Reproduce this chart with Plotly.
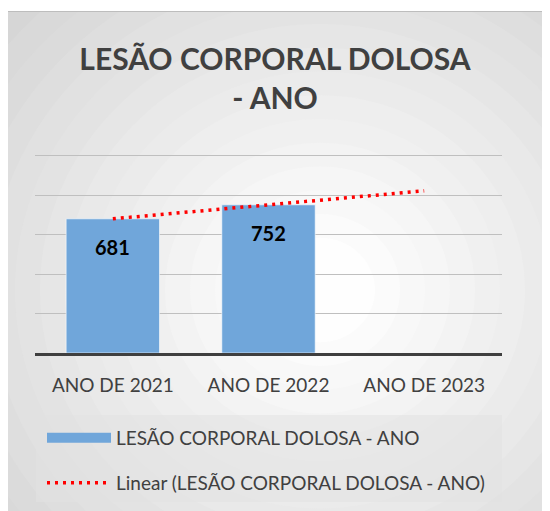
import numpy as np
import plotly.graph_objects as go

# dados
categorias = ["ANO DE 2021", "ANO DE 2022", "ANO DE 2023"]
valores = [681, 752, None]
serie_nome = "LESÃO CORPORAL DOLOSA - ANO"
titulo = "LESÃO CORPORAL DOLOSA<br>- ANO"
y_ticks = [0, 200, 400, 600, 800, 1000]

# a página tem margem de 8px no body
OFF = 8
W, H = 550 - OFF, 511 - OFF
ML, MR, MT, MB = 27, 48, 145, 158
PW, PH = W - ML - MR, H - MT - MB


def px(x):
    return (x - OFF - ML) / PW


def py(y):
    return (H - MB - (y - OFF)) / PH


def cx_(x):
    return (x - OFF) / W


def cy_(y):
    return 1 - (y - OFF) / H


# linha de tendência linear (como no Excel)
idx = np.arange(len(categorias))
conhecidos = [(i, v) for i, v in zip(idx, valores) if v is not None]
a, b = np.polyfit([c[0] for c in conhecidos], [c[1] for c in conhecidos], 1)
tendencia = list(a * idx + b)

FONTE = "Lato"
CINZA = "#404040"
AZUL = "#70a6da"

fig = go.Figure()

fig.add_trace(go.Bar(
    x=categorias, y=valores, width=0.6,
    marker=dict(color=AZUL, line=dict(color="rgba(255,255,255,0.6)", width=1)),
    showlegend=False, hoverinfo="skip"
))

fig.add_trace(go.Scatter(
    x=categorias, y=tendencia, mode="lines",
    line=dict(color="#ff0000", width=3.5, dash="3px,5px"),
    showlegend=False, hoverinfo="skip"
))

# entradas de legenda
fig.add_trace(go.Scatter(
    x=[None], y=[None], mode="lines", name=serie_nome,
    line=dict(color=AZUL, width=10), legend="legend"
))
fig.add_trace(go.Scatter(
    x=[None], y=[None], mode="lines", name="Linear (" + serie_nome + ")",
    line=dict(color="#ff0000", width=3.5, dash="3px,5px"), legend="legend2"
))

# rótulos de dados
for c, v in zip(categorias, valores):
    if v is None:
        continue
    fig.add_annotation(
        x=c, y=v, text="<b>%d</b>" % v, showarrow=False,
        yanchor="top", yshift=-14,
        font=dict(family=FONTE, size=20, color="#000000")
    )

# fundo com gradiente radial aproximado
shapes = [dict(type="rect", xref="paper", yref="paper", layer="below",
               x0=px(7), x1=px(560), y0=py(520), y1=py(11),
               fillcolor="#d2d2d2", line=dict(width=0))]
gx, gy = 320, 290
n = 16
for k in range(n):
    r = 430 - k * 25
    g = int(0xd4 + (0xfe - 0xd4) * (k + 1) / n)
    shapes.append(dict(type="circle", xref="paper", yref="paper", layer="below",
                       x0=px(gx - r), x1=px(gx + r), y0=py(gy + r * 0.95), y1=py(gy - r * 0.95),
                       fillcolor="rgb(%d,%d,%d)" % (g, g, g), line=dict(width=0)))
# recortes brancos e borda
shapes += [
    dict(type="rect", xref="paper", yref="paper", layer="below",
         x0=px(-400), x1=px(7), y0=py(900), y1=py(-400),
         fillcolor="white", line=dict(width=0)),
    dict(type="rect", xref="paper", yref="paper", layer="below",
         x0=px(-400), x1=px(900), y0=py(11), y1=py(-400),
         fillcolor="white", line=dict(width=0)),
    dict(type="rect", xref="paper", yref="paper", layer="below",
         x0=px(7.5), x1=px(560), y0=py(520), y1=py(11.5),
         fillcolor="rgba(0,0,0,0)", line=dict(color="#bdbdbd", width=1)),
    # caixa da legenda
    dict(type="rect", xref="paper", yref="paper", layer="below",
         x0=px(36), x1=px(502), y0=py(502), y1=py(415),
         fillcolor="rgba(225,225,225,0.55)", line=dict(width=0)),
]

fig.update_layout(
    width=W, height=H,
    margin=dict(l=ML, r=MR, t=MT, b=MB, autoexpand=False),
    paper_bgcolor="white", plot_bgcolor="rgba(0,0,0,0)",
    shapes=shapes,
    title=dict(text="<b>" + titulo + "</b>", x=cx_(275), xanchor="center",
               y=cy_(70), yanchor="middle", yref="container",
               font=dict(family=FONTE, size=30, color=CINZA)),
    font=dict(family=FONTE, size=19, color=CINZA),
    xaxis=dict(showgrid=False, showline=True, linecolor="#3f3f3f", linewidth=3,
               ticks="", tickfont=dict(size=19, color=CINZA), fixedrange=True,
               ticklabelstandoff=13, range=[-0.5, 2.5]),
    yaxis=dict(range=[0, 1015], tickvals=y_ticks, showticklabels=False,
               gridcolor="#bfbfbf", gridwidth=1, zeroline=False, fixedrange=True),
    legend=dict(x=cx_(42), y=cy_(438), xanchor="left", yanchor="middle",
                xref="container", yref="container", itemwidth=64,
                bgcolor="rgba(0,0,0,0)", font=dict(family=FONTE, size=19, color=CINZA)),
    legend2=dict(x=cx_(42), y=cy_(483), xanchor="left", yanchor="middle",
                 xref="container", yref="container", itemwidth=64,
                 bgcolor="rgba(0,0,0,0)", font=dict(family=FONTE, size=19, color=CINZA)),
)

fig.write_html("out.html")
